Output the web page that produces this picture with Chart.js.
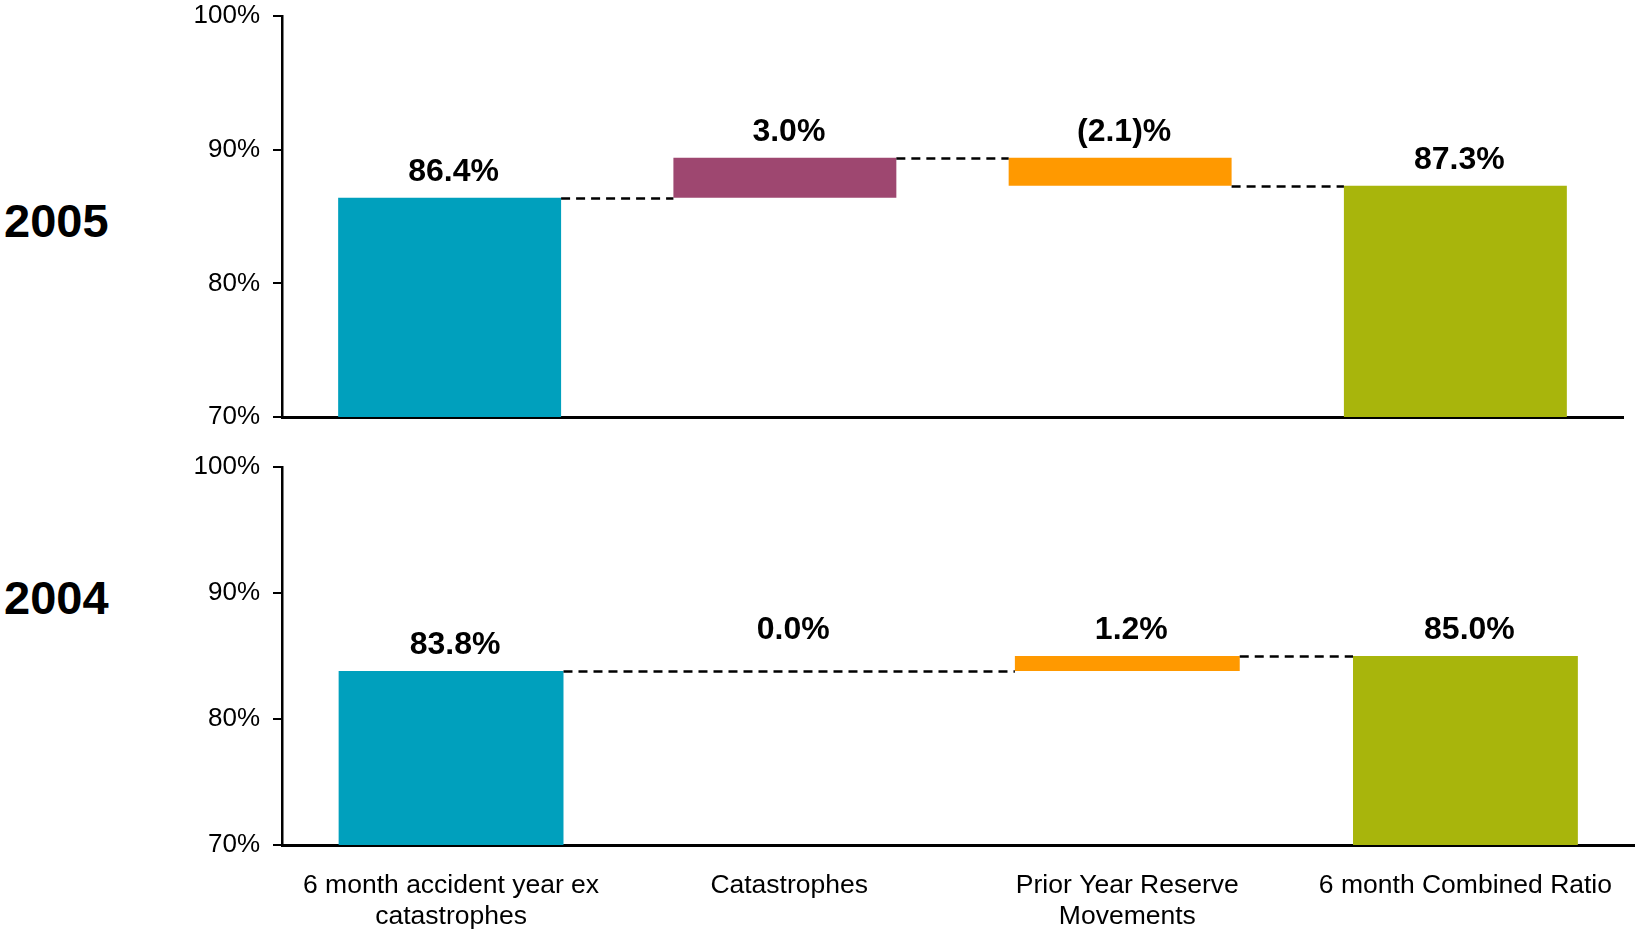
<!DOCTYPE html>
<html>
<head>
<meta charset="utf-8">
<script src="https://cdn.jsdelivr.net/npm/chart.js@4.4.0/dist/chart.umd.min.js"></script>
<style>
  body { margin: 0; background: #fff; width: 1637px; height: 931px; overflow: hidden; position: relative; font-family: "Liberation Sans", Arial, sans-serif; }
  .year { position: absolute; left: 4px; font-weight: bold; font-size: 47px; line-height: 1; color: #000; }
  .panel { position: absolute; left: 0; width: 1637px; }
</style>
</head>
<body>
<div class="year" style="top:197px">2005</div>
<div class="year" style="top:574px">2004</div>
<div class="panel" style="top:0;height:431px"><canvas id="chart2005"></canvas></div>
<div class="panel" style="top:431px;height:500px"><canvas id="chart2004"></canvas></div>

<script>
const categories = [['6 month accident year ex', 'catastrophes'], 'Catastrophes', ['Prior Year Reserve', 'Movements'], '6 month Combined Ratio'];
const ratio2005 = [86.4, 3.0, -2.1, 87.3];
const ratio2004 = [83.8, 0.0, 1.2, 85.0];
const barColors = ['#00A0BD', '#9E4770', '#FF9900', '#A8B50C'];
const yTicks = [70, 80, 90, 100];

const FONT = '"Liberation Sans", Arial, sans-serif';

// first and last bars are totals from the axis floor, middle ones are steps
function floatBars(vals) {
  let run = 0;
  return vals.map((v, i) => {
    if (i === 0) { run = v; return [yTicks[0], v]; }
    if (i === vals.length - 1) return [yTicks[0], v];
    const from = run;
    run = +(run + v).toFixed(1);
    return [from, run];
  });
}

function fmt(v) {
  if (v < 0) return '(' + Math.abs(v).toFixed(1) + ')%';
  return v.toFixed(1) + '%';
}

function isFlat(b) { return b[0] === b[1]; }

function makeChart(id, vals, showLabels, padTop, padRight, xHeight) {
  const bars = floatBars(vals);

  const extras = {
    id: 'extras',
    afterDatasetsDraw(chart) {
      const ctx = chart.ctx;
      const meta = chart.getDatasetMeta(0);
      const y = chart.scales.y;
      ctx.save();

      // dashed connectors between bars
      ctx.strokeStyle = '#000';
      ctx.lineWidth = 2.5;
      ctx.setLineDash([9, 6]);
      for (let i = 0; i < bars.length - 1; i++) {
        if (i > 0 && isFlat(bars[i])) continue;
        let j = i + 1;
        while (j < bars.length - 1 && isFlat(bars[j])) j++;
        const a = meta.data[i], b = meta.data[j];
        const py = Math.round(y.getPixelForValue(bars[i][1])) + 0.5;
        ctx.beginPath();
        ctx.moveTo(a.x + a.width / 2, py);
        ctx.lineTo(b.x - b.width / 2, py);
        ctx.stroke();
      }

      // value labels
      ctx.setLineDash([]);
      ctx.fillStyle = '#000';
      ctx.font = 'bold 32px ' + FONT;
      ctx.textAlign = 'center';
      ctx.textBaseline = 'alphabetic';
      bars.forEach((b, i) => {
        let top = Math.max(b[0], b[1]);
        if (isFlat(b) && bars[i + 1]) top = Math.max(bars[i + 1][0], bars[i + 1][1]);
        const py = y.getPixelForValue(top) - 17;
        ctx.fillText(fmt(vals[i]), meta.data[i].x + 4, py);
      });
      ctx.restore();
    }
  };

  return new Chart(document.getElementById(id), {
    type: 'bar',
    data: {
      labels: categories,
      datasets: [{
        data: bars,
        backgroundColor: barColors,
        borderWidth: 0,
        barPercentage: 0.665,
        categoryPercentage: 1
      }]
    },
    options: {
      responsive: true,
      maintainAspectRatio: false,
      animation: false,
      layout: { padding: { top: padTop, right: padRight, left: 0, bottom: 0 } },
      plugins: { legend: { display: false }, tooltip: { enabled: false } },
      scales: {
        x: {
          grid: { display: false, drawTicks: false },
          border: { display: true, color: '#000', width: 3 },
          ticks: {
            display: showLabels,
            color: '#000',
            font: { family: FONT, size: 26.5, lineHeight: 1.18 },
            padding: 25,
            maxRotation: 0,
            minRotation: 0,
            autoSkip: false
          },
          afterFit(s) { s.height = xHeight; }
        },
        y: {
          min: 70,
          max: 100,
          afterBuildTicks(s) { s.ticks = yTicks.map(v => ({ value: v })); },
          grid: { display: true, drawOnChartArea: false, drawTicks: true, tickLength: 9, color: '#000', lineWidth: 2 },
          border: { display: true, color: '#000', width: 2.5 },
          ticks: {
            color: '#000',
            font: { family: FONT, size: 26, lineHeight: 1 },
            padding: 13,
            callback: v => v + '%'
          },
          afterFit(s) { s.width = 282; s.paddingTop = 0; s.paddingBottom = 0; }
        }
      }
    },
    plugins: [extras]
  });
}

makeChart('chart2005', ratio2005, false, 16, 14, 14);
makeChart('chart2004', ratio2004, true, 36, -8, 86);
</script>
</body>
</html>
